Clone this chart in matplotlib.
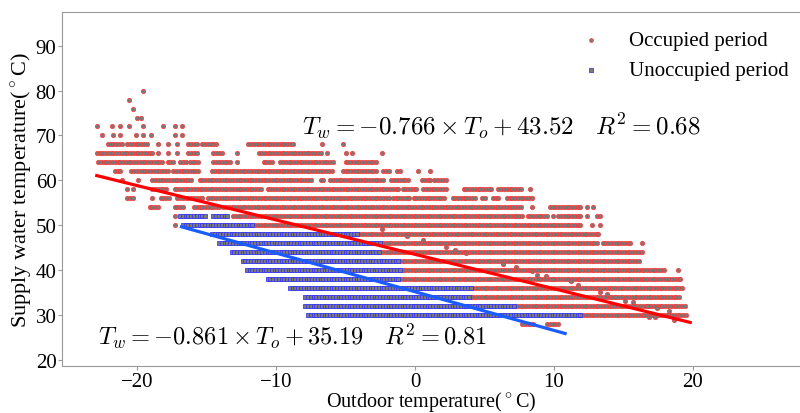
import numpy as np
import matplotlib
matplotlib.use('Agg')
import matplotlib.pyplot as plt

plt.rcParams['font.family'] = ['Liberation Serif', 'DejaVu Serif']
plt.rcParams['mathtext.fontset'] = 'cm'

# outdoor temperature readings step (deg C)
STEP = 0.2

# Occupied period: supply temperature level -> outdoor temperature spans (start, end)
occ_rows = {
    80: [(-19.6, -19.6)],
    78: [(-20.6, -20.6)],
    76: [(-20.3, -20.3)],
    74: [(-20.0, -20.0), (-19.7, -19.7)],
    72: [(-22.9, -22.9), (-21.8, -21.8), (-21.2, -21.2), (-20.6, -20.6), (-19.6, -19.6),
         (-18.1, -18.1), (-17.3, -17.3), (-16.8, -16.8)],
    70: [(-22.5, -22.5), (-21.7, -21.7), (-21.2, -21.2), (-20.1, -20.1), (-19.6, -19.6),
         (-19.0, -19.0), (-17.3, -17.3), (-16.8, -16.8)],
    68: [(-22.1, -21.1), (-20.7, -19.3), (-18.5, -18.5), (-17.8, -17.8), (-17.1, -17.1),
         (-16.3, -15.6), (-15.3, -14.2), (-12.0, -8.8), (-6.7, -6.7), (-5.2, -5.2)],
    66: [(-22.9, -18.9), (-18.5, -18.5), (-17.8, -17.8), (-17.1, -17.1), (-16.3, -15.6),
         (-14.5, -13.8), (-12.8, -12.8), (-11.2, -6.8), (-6.3, -6.3), (-5.0, -5.0),
         (-4.5, -4.5), (-2.4, -2.4)],
    64: [(-22.8, -18.1), (-17.8, -17.3), (-16.9, -16.5), (-16.2, -15.6), (-14.5, -13.2),
         (-12.8, -12.8), (-10.9, -10.3), (-9.7, -5.9), (-5.0, -2.7)],
    62: [(-21.6, -21.1), (-20.4, -17.8), (-17.4, -15.6), (-14.6, -5.9), (-5.2, -2.7),
         (-2.3, -1.8), (-1.3, -1.1), (0.2, 0.2), (1.1, 1.1)],
    60: [(-21.1, -21.1), (-19.9, -19.9), (-18.9, -16.0), (-15.5, -7.4), (-6.8, -6.5),
         (-6.1, -2.2), (-1.7, -0.5), (0.5, 1.1), (1.4, 2.3)],
    58: [(-20.7, -20.7), (-20.3, -20.3), (-18.9, -17.8), (-17.3, -11.0), (-10.6, -1.1),
         (-0.9, 0.1), (0.6, 2.3), (3.5, 5.5), (6.0, 7.6), (8.3, 8.3)],
    56: [(-20.7, -20.3), (-18.9, -18.9), (-18.3, -17.6), (-17.1, -15.3), (-14.9, -1.8),
         (-1.6, -0.4), (-0.1, 2.2), (2.7, 4.3), (4.8, 5.0), (5.6, 6.1), (6.6, 8.5)],
    54: [(-19.1, -18.4), (-17.3, -16.6), (-15.9, -14.0), (-13.8, 7.6), (8.4, 8.4),
         (9.7, 11.9), (12.4, 12.4), (12.8, 12.8)],
    52: [(-17.3, -17.3), (-13.1, 7.7), (8.1, 9.5), (9.9, 9.9), (10.3, 11.9), (12.4, 12.4),
         (13.1, 13.1), (13.3, 13.3)],
    50: [(-17.3, -17.3), (-11.7, 11.9), (12.7, 12.7), (13.3, 13.3)],
    48: [(-4.2, 13.3)],
    46: [(-2.5, 13.1), (13.5, 15.5), (16.3, 16.3)],
    44: [(-2.5, 16.4)],
    42: [(-1.1, 16.2)],
    40: [(-1.1, 18.0), (18.9, 18.9)],
    38: [(-1.1, 19.2)],
    36: [(4.0, 19.2)],
    34: [(4.0, 19.0)],
    32: [(7.2, 19.4)],
    30: [(11.9, 19.6)],
    28: [(7.7, 8.6), (9.5, 10.3)],
}

# odd readings scattered along the occupied band
occ_extra_x = [-2.4, -0.6, 0.6, 2.2, 2.9, 3.7, 6.3, 7.3, 8.4, 8.8, 9.4, 9.9, 11.2, 11.7,
               13.3, 13.8, 14.4, 15.1, 15.7, 16.7, 17.4, 18.3, 16.8, 17.3, 18.6]
occ_extra_y = [49.2, 47.6, 46.8, 45.2, 44.5, 43.9, 41.4, 40.7, 39.8, 39.0, 38.7, 38.1, 37.5, 36.6,
               35.2, 34.6, 34.1, 33.2, 32.8, 32.1, 31.5, 30.8, 29.5, 29.5, 28.8]

# Unoccupied period
unocc_rows = {
    52: [(-16.9, -15.1), (-14.5, -13.5)],
    50: [(-16.7, -11.7)],
    48: [(-14.6, -4.2)],
    46: [(-14.1, -2.5)],
    44: [(-13.2, -2.5)],
    42: [(-12.4, -1.1)],
    40: [(-12.1, -1.1)],
    38: [(-10.6, -1.1)],
    36: [(-9.0, 4.0)],
    34: [(-7.9, 4.0)],
    32: [(-7.9, 7.2)],
    30: [(-7.7, 11.9)],
}

# fitted lines: slope, intercept, R2, x span
occ_fit = (-0.766, 43.52, 0.68)
occ_fit_x = [-22.9, 19.8]
unocc_fit = (-0.861, 35.19, 0.81)
unocc_fit_x = [-16.8, 10.8]


def expand(rows):
    xs, ys = [], []
    for level, spans in rows.items():
        for a, b in spans:
            pts = np.arange(a, b + 1e-9, STEP) if b > a else np.array([a])
            xs.extend(pts)
            ys.extend([level] * len(pts))
    return np.array(xs), np.array(ys)


ox, oy = expand(occ_rows)
ox = np.concatenate([ox, occ_extra_x])
oy = np.concatenate([oy, occ_extra_y])
ux, uy = expand(unocc_rows)

fig = plt.figure(figsize=(8, 4.14), dpi=100)
ax = fig.add_axes([0.0775, 0.113, 0.9225, 0.8556])

ax.scatter(ox, oy, s=9, marker='o', facecolor='#7a7a7a', edgecolor=(1, 0.2, 0.2, 0.8),
           linewidths=0.7, label='Occupied period', zorder=2)
ax.scatter(ux, uy, s=7, marker='s', facecolor='#7a7a7a', edgecolor=(0.2, 0.2, 1, 0.8),
           linewidths=0.7, label='Unoccupied period', zorder=3)

fx = np.array(occ_fit_x)
ax.plot(fx, occ_fit[0] * fx + occ_fit[1], color='red', lw=2.3, zorder=4)
fx = np.array(unocc_fit_x)
ax.plot(fx, unocc_fit[0] * fx + unocc_fit[1], color='#1a5cff', lw=2.3, zorder=4)

ax.text(-8.1, 72.3, r'$T_w=%.3f\times T_o+%.2f\quad R^2=%.2f$' % occ_fit,
        fontsize=18, va='center', ha='left')
ax.text(-22.8, 25.5, r'$T_w=%.3f\times T_o+%.2f\quad R^2=%.2f$' % unocc_fit,
        fontsize=17.6, va='center', ha='left')

ax.set_xlim(-25.4, 27.7)
ax.set_ylim(18.6, 97.5)
ax.set_xticks([-20, -10, 0, 10, 20])
ax.set_yticks([20, 30, 40, 50, 60, 70, 80, 90])
ax.tick_params(labelsize=15, length=3, color='#999999', pad=1)
for side in ['left', 'bottom', 'top']:
    ax.spines[side].set_color('#999999')
ax.spines['right'].set_visible(False)

ax.set_xlabel(r'Outdoor temperature($^\circ$C)', fontsize=14.5, labelpad=-1)
ax.set_ylabel(r'Supply water temperature($^\circ$C)', fontsize=16, labelpad=1)

ax.legend(loc='upper right', frameon=False, fontsize=15, bbox_to_anchor=(1.01, 1.0),
          markerscale=0.9)

fig.savefig('out.png', dpi=100)
